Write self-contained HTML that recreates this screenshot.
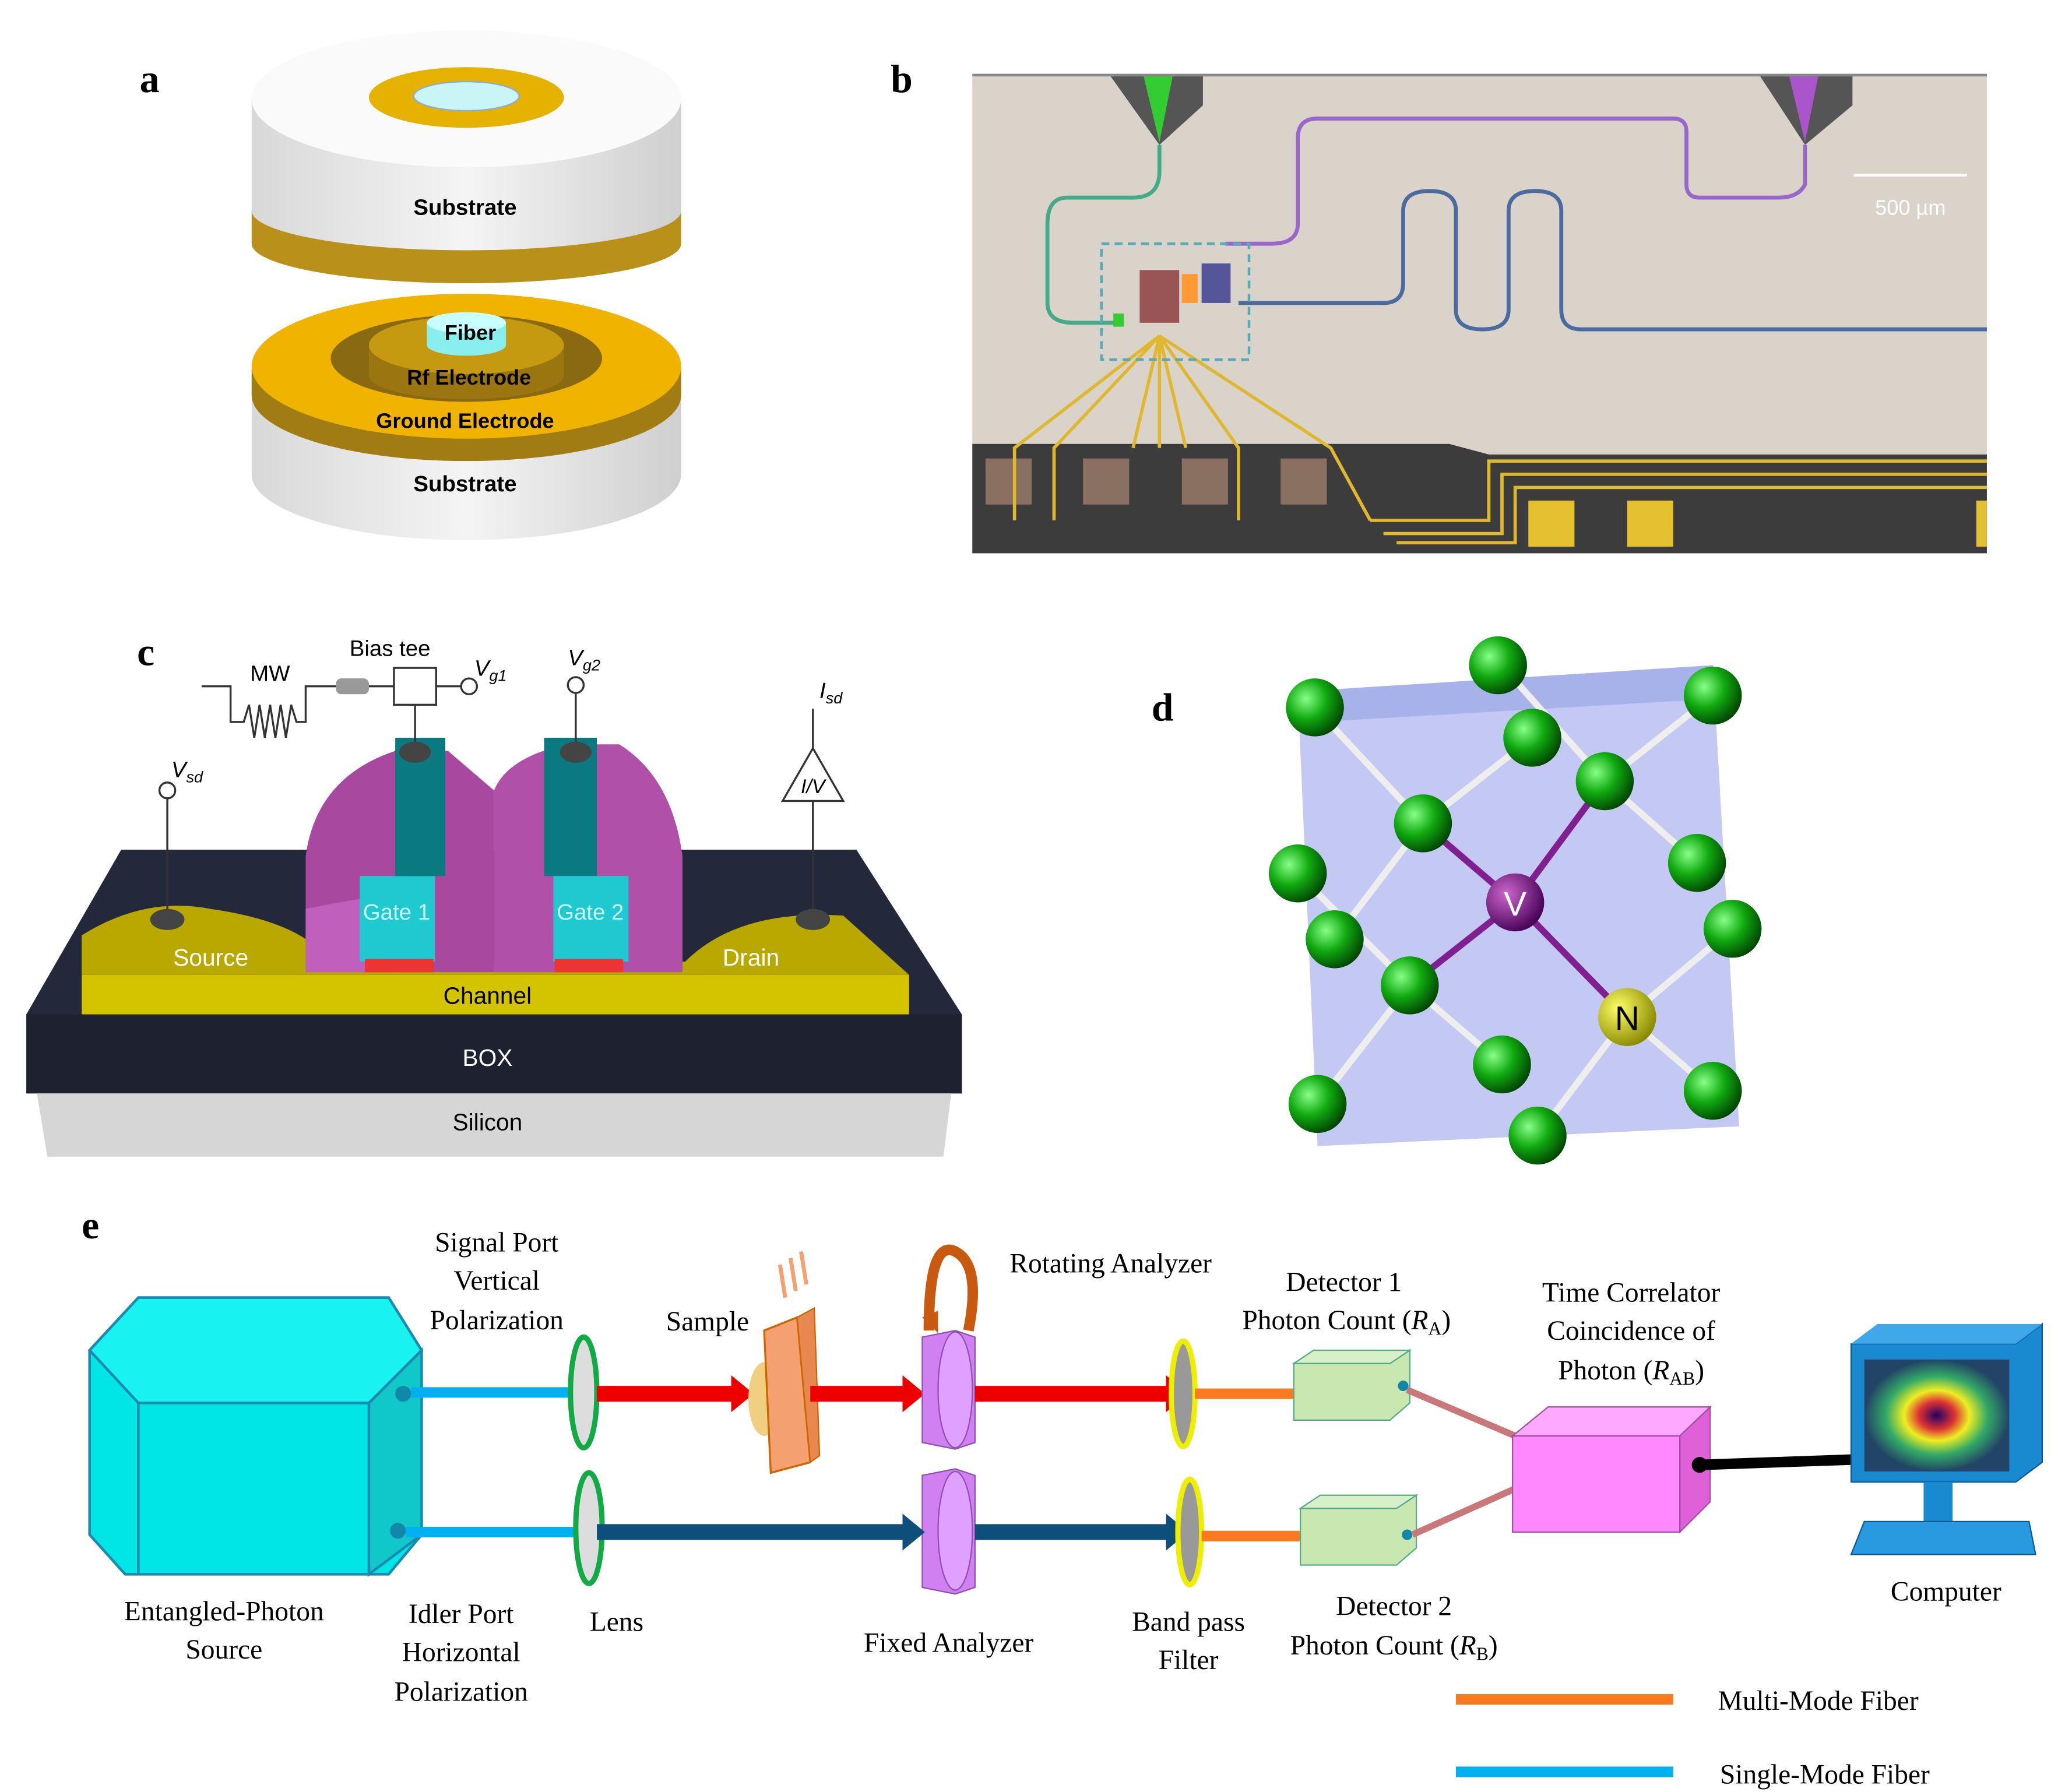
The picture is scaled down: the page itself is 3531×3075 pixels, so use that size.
<!DOCTYPE html>
<html><head><meta charset="utf-8"><style>
html,body{margin:0;padding:0;background:#fff}
svg{display:block}
text{font-family:"Liberation Sans",sans-serif}
.s,.s text{font-family:"Liberation Serif",serif}
</style></head><body>
<svg width="3531" height="3075" viewBox="0 0 1562 1360.3" preserveAspectRatio="none" xmlns="http://www.w3.org/2000/svg">
<defs>
<linearGradient id="side" x1="0" x2="1"><stop offset="0" stop-color="#d8d8d8"/><stop offset="0.5" stop-color="#f4f4f4"/><stop offset="1" stop-color="#cfcfcf"/></linearGradient>
<radialGradient id="gs" cx="0.35" cy="0.35" r="0.7"><stop offset="0" stop-color="#8f8"/><stop offset="0.5" stop-color="#1a1"/><stop offset="1" stop-color="#040"/></radialGradient>
<radialGradient id="vs" cx="0.35" cy="0.35" r="0.7"><stop offset="0" stop-color="#c6c"/><stop offset="1" stop-color="#405"/></radialGradient>
<radialGradient id="ns" cx="0.35" cy="0.35" r="0.7"><stop offset="0" stop-color="#ff6"/><stop offset="1" stop-color="#880"/></radialGradient>
<radialGradient id="scr" cx="0.5" cy="0.5" r="0.5"><stop offset="0" stop-color="#206"/><stop offset="0.25" stop-color="#d33"/><stop offset="0.45" stop-color="#ee2"/><stop offset="0.7" stop-color="#3a6"/><stop offset="1" stop-color="#246"/></radialGradient>
</defs>
<!-- Panel labels -->
<text x="106" y="70" class="s" font-size="30" font-weight="bold">a</text>
<text x="676" y="70" class="s" font-size="30" font-weight="bold">b</text>
<text x="104" y="505" class="s" font-size="30" font-weight="bold">c</text>
<text x="874" y="547" class="s" font-size="30" font-weight="bold">d</text>
<text x="62" y="940" class="s" font-size="30" font-weight="bold">e</text>

<!-- Panel a -->
<path d="M191,160 L191,185 A163,30 0 0 0 517,185 L517,160 Z" fill="#b8901a"/>
<path d="M191,75 L191,160 A163,30 0 0 0 517,160 L517,75 Z" fill="url(#side)"/>
<ellipse cx="354" cy="75" rx="163" ry="52" fill="#fafafa"/>
<ellipse cx="354" cy="74" rx="74" ry="23" fill="#e6b200"/>
<ellipse cx="354" cy="73" rx="40" ry="11" fill="#c8f5f5" stroke="#8ad" />
<text x="353" y="163" font-size="17" font-weight="bold" text-anchor="middle">Substrate</text>
<path d="M191,285 L191,360 A163,50 0 0 0 517,360 L517,285 Z" fill="url(#side)"/>
<path d="M191,280 L191,300 A163,50 0 0 0 517,300 L517,280 Z" fill="#a07c12"/>
<ellipse cx="354" cy="278" rx="163" ry="55" fill="#f0b400"/>
<ellipse cx="354" cy="272" rx="103" ry="33" fill="#8a6a10"/>
<path d="M280,262 L280,285 A74,18 0 0 0 428,285 L428,262Z" fill="#9a7510"/>
<ellipse cx="354" cy="262" rx="74" ry="22" fill="#c69a10"/>
<path d="M324,245 L324,262 A30,8 0 0 0 384,262 L384,245Z" fill="#8ee"/>
<ellipse cx="354" cy="245" rx="30" ry="8" fill="#c8ffff"/>
<text x="357" y="258" font-size="16" font-weight="bold" text-anchor="middle">Fiber</text>
<text x="356" y="292" font-size="16" font-weight="bold" text-anchor="middle">Rf Electrode</text>
<text x="353" y="325" font-size="16" font-weight="bold" text-anchor="middle">Ground Electrode</text>
<text x="353" y="373" font-size="17" font-weight="bold" text-anchor="middle">Substrate</text>

<!-- Panel b -->
<rect x="738" y="56" width="770" height="364" fill="#d9d3ca"/>
<path d="M738,337 L1100,337 L1130,345 L1508,345 L1508,420 L738,420Z" fill="#3d3c3c"/>
<rect x="738" y="56" width="770" height="2" fill="#888"/>
<g fill="#8a7060"><rect x="748" y="348" width="35" height="35"/><rect x="822" y="348" width="35" height="35"/><rect x="897" y="348" width="35" height="35"/><rect x="972" y="348" width="35" height="35"/></g>
<g fill="#e5c030"><rect x="1160" y="380" width="35" height="35"/><rect x="1235" y="380" width="35" height="35"/><rect x="1500" y="380" width="8" height="35"/></g>
<g stroke="#e0b830" stroke-width="2.5" fill="none">
<path d="M880,255 L770,340 L770,395"/><path d="M880,255 L800,340 L800,395"/><path d="M880,255 L860,340"/><path d="M880,255 L880,340"/><path d="M880,255 L900,340"/><path d="M880,255 L940,340 L940,395"/><path d="M880,255 L1010,340 L1040,395"/>
<path d="M1040,395 L1130,395 L1130,350 L1508,350"/><path d="M1050,405 L1140,405 L1140,360 L1508,360"/><path d="M1060,412 L1150,412 L1150,370 L1508,370"/>
</g>
<path d="M843,58 L913,58 L913,80 L880,110Z" fill="#555"/><path d="M868,58 L890,58 L880,108Z" fill="#3c3"/>
<path d="M1336,58 L1406,58 L1406,80 L1370,110Z" fill="#555"/><path d="M1358,58 L1380,58 L1370,108Z" fill="#a5c"/>
<path d="M880,110 L880,130 Q880,150 860,150 L810,150 Q795,150 795,170 L795,230 Q795,245 815,245 L850,245" stroke="#4a8" stroke-width="3" fill="none"/>
<path d="M1370,110 L1370,140 Q1365,150 1350,150 L1290,150 Q1280,150 1280,140 L1280,100 Q1280,90 1270,90 L1000,90 Q985,90 985,105 L985,170 Q985,185 965,185 L930,185" stroke="#96c" stroke-width="3" fill="none"/>
<path d="M940,230 L1050,230 Q1065,230 1065,215 L1065,160 Q1065,145 1085,145 Q1105,145 1105,160 L1105,235 Q1105,250 1125,250 Q1145,250 1145,235 L1145,160 Q1145,145 1165,145 Q1185,145 1185,160 L1185,235 Q1185,250 1200,250 L1508,250" stroke="#4a6aa0" stroke-width="3" fill="none"/>
<rect x="836" y="185" width="112" height="88" fill="none" stroke="#5ab" stroke-width="2" stroke-dasharray="6,4"/>
<rect x="865" y="205" width="30" height="40" fill="#955"/><rect x="897" y="208" width="12" height="22" fill="#f93"/><rect x="912" y="200" width="22" height="30" fill="#559"/><rect x="845" y="238" width="8" height="10" fill="#3c3"/>
<line x1="1407" y1="133" x2="1493" y2="133" stroke="#fff" stroke-width="2"/>
<text x="1450" y="163" font-size="16" fill="#fff" text-anchor="middle">500 µm</text>

<!-- Panel c -->
<path d="M20,770 L92,645 L650,645 L730,770 L730,830 L20,830Z" fill="#23283a"/>
<path d="M20,770 L730,770 L730,830 L20,830Z" fill="#1e2130"/>
<path d="M28,830 L722,830 L716,878 L36,878Z" fill="#d6d6d6"/>
<path d="M62,740 L62,710 Q110,680 160,690 Q230,700 250,730 L520,730 Q560,690 640,695 L690,740 Z" fill="#b8a800"/>
<rect x="62" y="740" width="628" height="30" fill="#d4c400"/>
<path d="M232,738 L232,650 Q240,590 300,570 L340,570 L375,600 L375,738Z" fill="#a8489e"/>
<path d="M375,738 L375,600 Q385,575 430,565 L470,565 Q510,590 518,650 L518,738Z" fill="#b050a8"/>
<path d="M232,738 L232,690 Q280,680 300,680 L300,738Z" fill="#c060bc"/>
<rect x="300" y="565" width="30" height="165" fill="#0c8c90"/><rect x="273" y="665" width="57" height="65" fill="#20c8d0"/><rect x="300" y="560" width="38" height="105" fill="#0a7a80"/>
<rect x="413" y="560" width="40" height="105" fill="#0a7a80"/><rect x="420" y="665" width="57" height="65" fill="#20c8d0"/>
<rect x="277" y="728" width="52" height="10" fill="#e33"/><rect x="421" y="728" width="52" height="10" fill="#e33"/>
<text x="301" y="698" font-size="17" fill="#cff" text-anchor="middle">Gate 1</text>
<text x="448" y="698" font-size="17" fill="#cff" text-anchor="middle">Gate 2</text>
<text x="160" y="733" font-size="18" fill="#fff" text-anchor="middle">Source</text>
<text x="570" y="733" font-size="18" fill="#fff" text-anchor="middle">Drain</text>
<text x="370" y="762" font-size="18" text-anchor="middle">Channel</text>
<text x="370" y="809" font-size="18" fill="#fff" text-anchor="middle">BOX</text>
<text x="370" y="858" font-size="18" text-anchor="middle">Silicon</text>
<g stroke="#333" stroke-width="1.5" fill="none">
<line x1="127" y1="605" x2="127" y2="695"/><circle cx="127" cy="600" r="6" fill="#fff"/>
<line x1="315" y1="535" x2="315" y2="570"/><rect x="299" y="507" width="32" height="28"/>
<line x1="331" y1="521" x2="351" y2="521"/><circle cx="356" cy="521" r="6" fill="#fff"/>
<line x1="437" y1="525" x2="437" y2="570"/><circle cx="437" cy="520" r="6" fill="#fff"/>
<path d="M617,695 L617,608 M594,608 L640,608 L617,568Z M617,568 L617,538"/>
<path d="M153,521 L175,521 L175,548 L185,548 L189,535 L193,560 L197,535 L201,560 L205,535 L209,560 L213,535 L217,560 L221,535 L225,548 L232,548 L232,521 L255,521"/>
<line x1="280" y1="521" x2="299" y2="521"/>
</g>
<rect x="255" y="515" width="25" height="12" rx="4" fill="#999"/>
<g fill="#444"><ellipse cx="127" cy="698" rx="13" ry="8"/><ellipse cx="315" cy="571" rx="12" ry="8"/><ellipse cx="437" cy="571" rx="12" ry="8"/><ellipse cx="617" cy="698" rx="13" ry="8"/></g>
<text x="205" y="517" font-size="17" text-anchor="middle">MW</text>
<text x="296" y="498" font-size="17" text-anchor="middle">Bias tee</text>
<text x="360" y="513" font-size="17" font-style="italic">V<tspan font-size="12" dy="4">g1</tspan></text>
<text x="431" y="505" font-size="17" font-style="italic">V<tspan font-size="12" dy="4">g2</tspan></text>
<text x="130" y="590" font-size="17" font-style="italic">V<tspan font-size="12" dy="4">sd</tspan></text>
<text x="622" y="530" font-size="17" font-style="italic">I<tspan font-size="12" dy="4">sd</tspan></text>
<text x="617" y="602" font-size="15" font-style="italic" text-anchor="middle">I/V</text>

<!-- Panel d -->
<path d="M985,525 L1300,505 L1320,855 L1000,870Z" fill="#b8c0f0" opacity="0.85"/>
<path d="M985,525 L1300,505 L1310,530 L1000,548Z" fill="#a8b2ea"/>
<g stroke="#eee" stroke-width="5">
<line x1="1150" y1="685" x2="1080" y2="625"/><line x1="1150" y1="685" x2="1218" y2="593"/><line x1="1150" y1="685" x2="1070" y2="748"/><line x1="1150" y1="685" x2="1235" y2="772"/>
<line x1="1080" y1="625" x2="998" y2="537"/><line x1="1080" y1="625" x2="1163" y2="560"/><line x1="1080" y1="625" x2="1013" y2="713"/>
<line x1="1218" y1="593" x2="1137" y2="502"/><line x1="1218" y1="593" x2="1300" y2="528"/><line x1="1218" y1="593" x2="1288" y2="655"/>
<line x1="1070" y1="748" x2="985" y2="663"/><line x1="1070" y1="748" x2="1140" y2="808"/><line x1="1070" y1="748" x2="1000" y2="838"/>
<line x1="1235" y1="772" x2="1315" y2="705"/><line x1="1235" y1="772" x2="1300" y2="828"/><line x1="1235" y1="772" x2="1167" y2="862"/>
</g>
<g stroke="#802090" stroke-width="5"><line x1="1150" y1="685" x2="1080" y2="625"/><line x1="1150" y1="685" x2="1218" y2="593"/><line x1="1150" y1="685" x2="1070" y2="748"/><line x1="1150" y1="685" x2="1235" y2="772"/></g>
<g fill="url(#gs)">
<circle cx="998" cy="537" r="22"/><circle cx="1137" cy="505" r="22"/><circle cx="1300" cy="528" r="22"/><circle cx="1163" cy="560" r="22"/><circle cx="1218" cy="593" r="22"/><circle cx="1080" cy="625" r="22"/><circle cx="985" cy="663" r="22"/><circle cx="1288" cy="655" r="22"/><circle cx="1013" cy="713" r="22"/><circle cx="1315" cy="705" r="22"/><circle cx="1070" cy="748" r="22"/><circle cx="1140" cy="808" r="22"/><circle cx="1000" cy="838" r="22"/><circle cx="1300" cy="828" r="22"/><circle cx="1167" cy="862" r="22"/>
</g>
<circle cx="1150" cy="685" r="22" fill="url(#vs)"/><text x="1150" y="695" font-size="26" fill="#fff" text-anchor="middle">V</text>
<circle cx="1235" cy="772" r="22" fill="url(#ns)"/><text x="1235" y="782" font-size="26" text-anchor="middle">N</text>

<!-- Panel e -->
<path d="M105,985 L295,985 L320,1025 L320,1165 L295,1195 L95,1195 L68,1165 L68,1025Z" fill="#00e5e5" stroke="#1a8ab0" stroke-width="2"/>
<path d="M68,1025 L105,985 L295,985 L320,1025 L280,1065 L105,1065Z" fill="#18f2f0" stroke="#1a8ab0" stroke-width="2"/>
<path d="M280,1065 L320,1025 L320,1165 L280,1195Z" fill="#10c8c8" stroke="#1a8ab0" stroke-width="2"/>
<path d="M105,1065 L105,1195" stroke="#1a8ab0" stroke-width="2"/>
<circle cx="306" cy="1058" r="6" fill="#18a" /><circle cx="302" cy="1162" r="6" fill="#18a"/>
<line x1="312" y1="1057" x2="440" y2="1057" stroke="#00b0f0" stroke-width="8"/>
<line x1="308" y1="1163" x2="440" y2="1163" stroke="#00b0f0" stroke-width="8"/>
<ellipse cx="443" cy="1057" rx="10" ry="42" fill="#ddd" stroke="#1a4" stroke-width="4"/>
<ellipse cx="447" cy="1160" rx="10" ry="42" fill="#ddd" stroke="#1a4" stroke-width="4"/>
<line x1="453" y1="1058" x2="560" y2="1058" stroke="#e00" stroke-width="12"/><path d="M555,1044 L572,1058 L555,1072Z" fill="#e00"/>
<ellipse cx="580" cy="1062" rx="12" ry="28" fill="#f0d080"/>
<path d="M580,1010 L605,1000 L615,1110 L585,1118Z" fill="#f4a070" stroke="#c60" stroke-width="1.5"/>
<path d="M605,1000 L618,993 L622,1105 L615,1110Z" fill="#e88850" stroke="#c60"/>
<path d="M592,960 L596,985 M600,955 L604,980 M608,950 L612,975" stroke="#f4a070" stroke-width="3"/>
<line x1="615" y1="1058" x2="688" y2="1058" stroke="#e00" stroke-width="12"/><path d="M685,1044 L702,1058 L685,1072Z" fill="#e00"/>
<path d="M700,1015 L725,1010 L740,1015 L740,1095 L725,1100 L700,1095Z" fill="#d080f0" stroke="#9050b0"/>
<ellipse cx="725" cy="1055" rx="13" ry="44" fill="#e0a0ff" stroke="#9050b0"/>
<path d="M705,1010 Q705,940 725,950 Q745,960 735,1010" stroke="#c85a10" stroke-width="8" fill="none"/>
<path d="M700,1000 L712,1012 L712,995Z" fill="#c85a10"/>
<line x1="740" y1="1058" x2="890" y2="1058" stroke="#e00" stroke-width="12"/><path d="M885,1044 L902,1058 L885,1072Z" fill="#e00"/>
<path d="M700,1120 L725,1115 L740,1120 L740,1205 L725,1210 L700,1205Z" fill="#d080f0" stroke="#9050b0"/>
<ellipse cx="725" cy="1162" rx="13" ry="45" fill="#e0a0ff" stroke="#9050b0"/>
<line x1="453" y1="1163" x2="688" y2="1163" stroke="#0d4f7a" stroke-width="12"/><path d="M685,1149 L702,1163 L685,1177Z" fill="#0d4f7a"/>
<line x1="740" y1="1163" x2="890" y2="1163" stroke="#0d4f7a" stroke-width="12"/><path d="M885,1149 L902,1163 L885,1177Z" fill="#0d4f7a"/>
<ellipse cx="898" cy="1058" rx="9" ry="40" fill="#999" stroke="#ee0" stroke-width="4"/>
<ellipse cx="903" cy="1163" rx="9" ry="40" fill="#999" stroke="#ee0" stroke-width="4"/>
<line x1="907" y1="1058" x2="985" y2="1058" stroke="#fa7a20" stroke-width="8"/>
<line x1="912" y1="1166" x2="990" y2="1166" stroke="#fa7a20" stroke-width="8"/>
<path d="M982,1035 L1055,1035 L1070,1025 L1070,1065 L1055,1078 L982,1078Z" fill="#c8e8b0" stroke="#5a8" />
<path d="M982,1035 L997,1025 L1070,1025 L1055,1035Z" fill="#d8f0c8" stroke="#5a8"/>
<path d="M987,1145 L1060,1145 L1075,1135 L1075,1175 L1060,1188 L987,1188Z" fill="#c8e8b0" stroke="#5a8"/>
<path d="M987,1145 L1002,1135 L1075,1135 L1060,1145Z" fill="#d8f0c8" stroke="#5a8"/>
<circle cx="1065" cy="1052" r="4" fill="#18a"/><circle cx="1068" cy="1165" r="4" fill="#18a"/>
<line x1="1068" y1="1055" x2="1150" y2="1090" stroke="#c87878" stroke-width="5"/>
<line x1="1072" y1="1165" x2="1150" y2="1130" stroke="#c87878" stroke-width="5"/>
<path d="M1148,1090 L1275,1090 L1275,1163 L1148,1163Z" fill="#ff88ff" stroke="#a050a0"/>
<path d="M1148,1090 L1175,1068 L1298,1068 L1275,1090Z" fill="#ffa8ff" stroke="#a050a0"/>
<path d="M1275,1090 L1298,1068 L1298,1140 L1275,1163Z" fill="#e060d8" stroke="#a050a0"/>
<line x1="1290" y1="1112" x2="1405" y2="1108" stroke="#000" stroke-width="8"/><circle cx="1290" cy="1112" r="6"/>
<path d="M1405,1020 L1530,1020 L1550,1005 L1550,1110 L1530,1125 L1405,1125Z" fill="#1a8ad0" stroke="#0a5a9a"/>
<path d="M1405,1020 L1425,1005 L1550,1005 L1530,1020Z" fill="#40a8e8"/>
<rect x="1415" y="1032" width="110" height="85" fill="url(#scr)"/>
<rect x="1460" y="1125" width="22" height="30" fill="#1a8ad0"/>
<path d="M1415,1155 L1540,1155 L1545,1180 L1405,1180Z" fill="#2a9ae0" stroke="#0a5a9a"/>
<line x1="1105" y1="1290" x2="1270" y2="1290" stroke="#fa7a20" stroke-width="8"/>
<line x1="1105" y1="1345" x2="1270" y2="1345" stroke="#00b0f0" stroke-width="8"/>
<g class="s" font-size="21" text-anchor="middle">
<text x="377" y="950">Signal Port</text><text x="377" y="979">Vertical</text><text x="377" y="1009">Polarization</text>
<text x="537" y="1010">Sample</text>
<text x="843" y="966">Rotating Analyzer</text>
<text x="1020" y="980">Detector 1</text><text x="1022" y="1009">Photon Count (<tspan font-style="italic">R</tspan><tspan font-size="14" dy="4">A</tspan><tspan dy="-4">)</tspan></text>
<text x="1238" y="988">Time Correlator</text><text x="1238" y="1017">Coincidence of</text><text x="1238" y="1047">Photon (<tspan font-style="italic">R</tspan><tspan font-size="14" dy="4">AB</tspan><tspan dy="-4">)</tspan></text>
<text x="170" y="1230">Entangled-Photon</text><text x="170" y="1259">Source</text>
<text x="350" y="1232">Idler Port</text><text x="350" y="1261">Horizontal</text><text x="350" y="1291">Polarization</text>
<text x="468" y="1238">Lens</text>
<text x="720" y="1254">Fixed Analyzer</text>
<text x="902" y="1238">Band pass</text><text x="902" y="1267">Filter</text>
<text x="1058" y="1226">Detector 2</text><text x="1058" y="1256">Photon Count (<tspan font-style="italic">R</tspan><tspan font-size="14" dy="4">B</tspan><tspan dy="-4">)</tspan></text>
<text x="1477" y="1215">Computer</text>
<text x="1380" y="1298">Multi-Mode Fiber</text>
<text x="1385" y="1354">Single-Mode Fiber</text>
</g>
</svg>
</body></html>
